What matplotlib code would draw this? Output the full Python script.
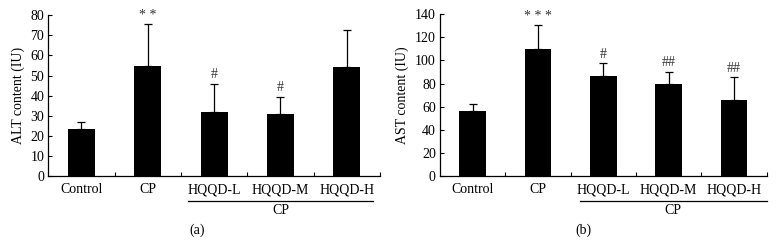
import matplotlib
matplotlib.use("Agg")
import matplotlib.pyplot as plt

plt.rcParams['font.family'] = ['Liberation Serif', 'DejaVu Serif']

categories = ["Control", "CP", "HQQD-L", "HQQD-M", "HQQD-H"]

alt_values = [23.3, 54.6, 31.7, 31.0, 54.1]
alt_errors = [3.5, 20.8, 14.2, 8.5, 18.3]
alt_marks = ["", "* *", "#", "#", ""]

ast_values = [56.6, 110.1, 86.8, 79.9, 66.1]
ast_errors = [6.0, 20.2, 10.7, 10.1, 19.3]
ast_marks = ["", "* * *", "#", "##", "##"]

fig = plt.figure(figsize=(7.79, 2.48), dpi=100)

def panel(rect, values, errors, marks, ylim, yticks, ylabel, tag, tagx, br):
    ax = fig.add_axes(rect)
    x = list(range(len(categories)))
    ax.bar(x, values, width=0.41, color='black', zorder=2)
    ax.errorbar(x, values, yerr=[[0]*len(errors), errors], fmt='none',
                ecolor='black', elinewidth=0.9, capsize=3, capthick=0.9, zorder=1)
    for xi, v, e, m in zip(x, values, errors, marks):
        if m:
            ax.annotate(m, (xi, v + e), xytext=(0, 2), textcoords='offset points',
                        ha='center', va='bottom', fontsize=10, color='#333333')
    ax.set_xlim(-0.5, len(categories) - 0.5)
    ax.set_ylim(*ylim)
    ax.set_yticks(yticks)
    ax.set_xticks(x)
    ax.set_xticklabels(categories, fontsize=10)
    ax.set_xticks([i + 0.5 for i in x], minor=True)
    ax.tick_params(axis='x', which='major', length=0, pad=5)
    ax.tick_params(axis='x', which='minor', direction='in', length=3, width=0.8)
    ax.tick_params(axis='y', direction='in', length=3, width=0.8, labelsize=10, pad=3)
    ax.spines['top'].set_visible(False)
    ax.spines['right'].set_visible(False)
    for s in ('left', 'bottom'):
        ax.spines[s].set_linewidth(0.9)
    ax.set_ylabel(ylabel, fontsize=10, labelpad=4)
    trans = ax.get_xaxis_transform()
    ax.plot([br[0], br[1]], [-0.153, -0.153], color='black', lw=0.9,
            transform=trans, clip_on=False)
    ax.text((br[0] + br[1]) / 2, -0.21, "CP", transform=trans, ha='center',
            va='center', fontsize=10)
    fig.text(tagx, 0.073, tag, ha='center', va='center', fontsize=10)
    return ax

panel([0.062, 0.289, 0.4258, 0.650], alt_values, alt_errors, alt_marks,
      (0, 80), range(0, 81, 10), "ALT content (IU)", "(a)", 197 / 779, (1.61, 4.4))
panel([0.5648, 0.289, 0.4194, 0.654], ast_values, ast_errors, ast_marks,
      (0, 140), range(0, 141, 20), "AST content (IU)", "(b)", 583 / 779, (1.64, 4.5))

fig.savefig("out.png", dpi=100)
